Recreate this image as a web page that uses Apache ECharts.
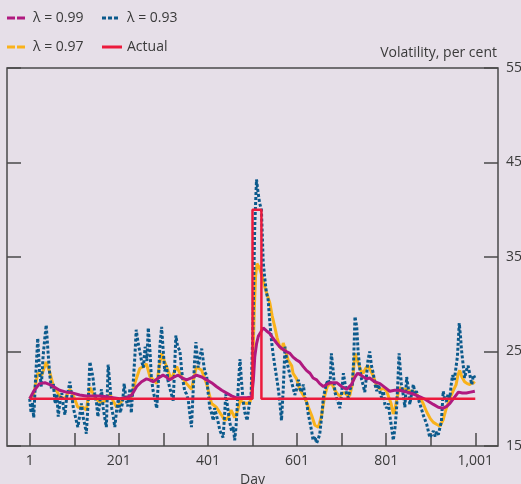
<!DOCTYPE html>
<html>
<head>
<meta charset="utf-8">
<script src="https://cdn.jsdelivr.net/npm/echarts@6/dist/echarts.min.js"></script>
<style>
  html, body { margin: 0; padding: 0; background: #e6dfe8; }
  #chart { width: 521px; height: 484px; }
</style>
</head>
<body>
<div id="chart"></div>
<script>
// Series names
const seriesNames = ['λ = 0.99', 'λ = 0.93', 'λ = 0.97', 'Actual'];
const unitTitle = 'Volatility, per cent';

// Tick positions (days) and labelled days
const dayTicks = [1, 101, 201, 301, 401, 501, 601, 701, 801, 901, 1001];
const dayLabels = [1, 201, 401, 601, 801, 1001];
const volTicks = [15, 25, 35, 45, 55];

// Actual volatility, per cent: [day, value]
const actual = [[1, 20], [501, 20], [501, 40], [521, 40], [521, 20], [1001, 20]];

// EWMA estimate, lambda = 0.99: [day, value]
const lambda99 = [
  [1,20.0],[10,20.8],[23,21.6],[35,21.7],[46,21.5],[57,21.2],[68,20.9],[83,20.7],[98,20.6],
  [113,20.4],[128,20.3],[143,20.3],[158,20.3],[173,20.2],[188,20.1],[203,20.0],[218,20.1],
  [230,20.4],[241,21.3],[252,21.8],[263,22.1],[270,22.0],[278,21.8],[290,22.2],[300,22.5],
  [308,22.3],[315,22.0],[325,22.3],[334,22.5],[343,22.2],[353,22.0],[364,22.2],[375,22.5],
  [387,22.3],[398,22.0],[409,21.7],[420,21.3],[432,20.9],[443,20.6],[454,20.3],[465,20.1],
  [476,20.1],[488,20.1],[499,20.2],[503,22.0],[506,24.4],[510,25.8],[514,26.6],[519,27.0],
  [525,27.5],[532,27.2],[540,26.9],[547,26.4],[555,25.9],[562,25.5],[570,25.2],[577,25.0],
  [585,24.8],[592,24.4],[600,24.1],[607,23.9],[615,23.4],[622,23.0],[630,22.7],[637,22.2],
  [645,22.0],[652,21.6],[660,21.3],[667,21.5],[675,21.7],[682,21.7],[690,21.7],[701,21.3],
  [712,21.0],[723,21.5],[731,22.3],[737,22.7],[747,22.4],[757,22.1],[764,22.2],[775,21.8],
  [787,21.6],[798,21.2],[809,20.8],[820,20.9],[831,20.9],[847,20.7],[862,20.5],[877,20.2],
  [890,19.9],[907,19.4],[918,19.1],[929,19.0],[937,19.2],[944,19.5],[955,20.2],[963,20.7],
  [972,20.6],[981,20.6],[990,20.7],[1000,20.8]
];

// EWMA estimate, lambda = 0.97: [day, value]
const lambda97 = [
  [1,20.0],[10,20.5],[19,22.7],[28,22.5],[38,23.9],[46,22.8],[56,21.0],[62,20.8],[69,20.2],
  [80,20.0],[91,21.0],[100,20.2],[109,19.1],[121,19.1],[128,18.8],[136,21.2],[147,20.2],
  [154,19.8],[162,19.6],[172,19.8],[181,20.5],[188,19.8],[196,19.1],[205,19.6],[214,20.2],
  [221,20.0],[229,20.2],[238,21.8],[248,23.2],[256,23.4],[263,23.7],[271,22.3],[279,22.0],
  [286,21.6],[292,23.5],[297,24.8],[303,24.0],[308,23.4],[319,22.0],[325,22.8],[331,23.4],
  [342,22.3],[353,21.6],[364,21.0],[370,22.3],[375,23.4],[387,23.0],[398,21.6],[409,19.5],
  [420,19.1],[431,18.3],[439,17.7],[446,18.0],[453,18.8],[461,18.0],[468,18.8],[473,19.8],
  [480,19.6],[488,19.5],[495,19.6],[499,20.3],[502,24.0],[505,29.5],[508,33.0],[511,34.3],
  [515,34.0],[519,33.5],[521,33.2],[525,32.5],[528,31.9],[534,31.0],[540,30.1],[545,28.8],
  [551,27.6],[556,26.5],[562,25.5],[567,25.2],[570,25.9],[574,25.9],[581,24.1],[589,23.5],
  [592,22.7],[600,22.1],[607,21.0],[611,21.1],[616,20.3],[622,19.7],[628,18.9],[634,18.2],
  [641,17.2],[649,17.0],[656,18.2],[663,20.3],[669,21.3],[675,21.6],[680,21.5],[686,20.9],
  [692,20.5],[697,20.3],[703,20.6],[708,20.6],[714,20.4],[719,20.3],[725,21.5],[731,24.8],
  [735,24.8],[738,23.8],[744,23.0],[749,22.7],[755,23.2],[760,23.5],[766,23.0],[772,22.4],
  [780,21.3],[789,21.0],[796,21.1],[802,20.8],[806,20.7],[812,19.5],[817,18.4],[820,18.7],
  [825,20.0],[831,21.2],[838,21.0],[846,21.0],[854,20.8],[862,20.8],[870,20.4],[877,20.1],
  [884,19.5],[892,18.6],[900,17.9],[907,17.5],[914,17.3],[922,17.1],[929,17.8],[936,19.0],
  [944,20.0],[951,20.8],[958,21.5],[962,22.5],[966,23.0],[971,22.3],[977,21.8],[983,21.6],
  [989,21.5],[995,21.8],[1000,21.6]
];

// EWMA estimate, lambda = 0.93: [day, value]
const lambda93 = [
  [1,20.0],[4,18.5],[7,19.6],[10,18.0],[14,22.0],[19,26.4],[23,23.0],[27,21.3],[31,24.5],
  [35,26.5],[38,27.8],[42,25.0],[46,22.5],[50,21.0],[54,21.6],[58,19.5],[62,20.5],[65,18.1],
  [69,19.8],[73,20.6],[77,19.0],[80,18.3],[84,20.2],[88,21.0],[91,21.8],[95,20.4],[99,19.0],
  [104,18.0],[109,17.0],[113,18.2],[117,19.5],[121,18.0],[125,17.2],[128,16.3],[132,19.5],
  [136,23.9],[140,23.0],[143,22.2],[147,20.5],[151,19.5],[154,18.1],[158,19.5],[162,21.0],
  [166,19.0],[170,17.8],[173,17.0],[177,23.6],[181,21.5],[185,19.0],[189,18.0],[192,17.0],
  [196,18.8],[200,20.0],[204,18.5],[209,19.5],[213,21.6],[217,20.0],[221,19.2],[226,21.1],
  [229,18.5],[233,21.5],[237,24.5],[240,27.3],[244,26.0],[248,25.9],[252,24.0],[256,23.3],
  [260,25.5],[264,24.0],[267,27.5],[271,25.0],[274,22.2],[278,20.8],[282,20.0],[286,19.0],
  [290,22.0],[293,25.5],[297,27.6],[300,25.5],[304,22.9],[308,23.5],[311,22.0],[315,21.2],
  [319,20.5],[323,19.8],[326,23.0],[329,26.7],[333,25.5],[338,25.1],[342,23.0],[345,21.9],
  [349,20.8],[353,20.5],[357,19.8],[360,18.5],[364,17.0],[367,20.0],[371,24.0],[374,26.0],
  [379,23.3],[383,24.5],[387,25.3],[391,23.8],[394,22.8],[398,22.5],[401,20.8],[405,19.1],
  [409,18.5],[413,17.7],[416,19.0],[420,18.8],[424,17.5],[428,16.6],[431,16.8],[435,15.9],
  [438,18.0],[441,20.5],[444,19.5],[446,18.8],[450,17.5],[454,16.6],[458,17.0],[461,15.6],
  [464,17.0],[467,19.4],[470,22.0],[473,24.2],[476,22.0],[480,19.8],[484,18.5],[489,17.7],
  [492,18.8],[495,19.8],[498,20.6],[502,27.6],[506,38.2],[510,43.2],[513,42.0],[517,40.7],
  [521,40.0],[525,34.5],[528,33.0],[532,31.3],[536,30.5],[540,28.0],[544,26.0],[547,24.8],
  [551,23.5],[555,22.3],[559,21.0],[562,19.8],[566,17.7],[570,21.0],[574,25.5],[578,24.0],
  [581,24.0],[585,22.5],[589,21.7],[593,21.0],[596,20.4],[600,21.0],[604,22.0],[608,21.0],
  [611,20.7],[615,21.5],[619,20.1],[623,19.5],[626,18.4],[630,17.5],[634,16.5],[637,15.6],
  [641,16.0],[645,15.3],[649,15.8],[652,16.3],[656,18.0],[660,20.1],[664,21.0],[667,21.6],
  [671,22.0],[675,21.5],[678,24.8],[682,23.0],[686,20.7],[690,20.0],[694,19.5],[697,19.0],
  [701,20.5],[705,22.7],[709,21.5],[712,20.5],[716,20.1],[720,21.0],[725,21.5],[728,24.0],
  [731,28.7],[735,27.6],[738,25.0],[742,23.1],[746,22.0],[749,21.5],[753,20.7],[757,22.5],
  [760,24.0],[764,25.0],[768,23.5],[772,22.7],[776,21.5],[780,20.8],[784,21.5],[788,20.5],
  [791,20.1],[795,20.8],[798,19.4],[802,19.0],[806,19.5],[809,18.3],[813,17.0],[817,15.6],
  [821,17.0],[824,18.7],[827,21.5],[830,24.8],[835,21.6],[839,20.5],[843,19.1],[847,22.3],
  [851,21.0],[854,19.4],[858,20.5],[862,21.5],[866,20.5],[869,20.8],[873,20.0],[877,19.4],
  [881,18.8],[884,18.3],[888,17.8],[892,17.3],[896,16.5],[899,15.9],[903,16.2],[907,16.6],
  [911,16.0],[914,16.5],[918,16.2],[921,16.8],[925,17.6],[929,20.8],[932,20.0],[936,19.7],
  [940,20.5],[944,20.1],[947,21.5],[950,22.5],[954,22.0],[957,21.8],[961,24.5],[965,28.0],
  [968,26.5],[970,25.2],[974,23.5],[977,22.2],[981,23.0],[985,23.5],[989,22.5],[993,21.5],
  [997,22.5],[1000,22.2]
];

const colors = {
  l99: '#b0197f',
  l93: '#0b5a8c',
  l97: '#f9b21b',
  actual: '#ec1a3c',
  text: '#3a3a3a',
  frame: '#4a4a4a',
  bg: '#e6dfe8'
};

const fontFamily = '"Open Sans", "Noto Sans", sans-serif';

// Legend swatches drawn as small paths
const iconDash = 'path://M0,0H8V3H0Z M10,0H18V3H10Z';
const iconDots = 'path://M0,0H4V3H0Z M6,0H10V3H6Z M12,0H16V3H12Z';
const iconSolid = 'path://M0,0H20V3H0Z';

function legendItem(name, icon, w, left, top, padLeft) {
  return {
    data: [{ name: name, icon: icon }],
    left: left, top: top, padding: 0,
    itemWidth: w, itemHeight: 3,
    selectedMode: false,
    itemStyle: { borderWidth: 0 },
    textStyle: {
      color: colors.text, fontSize: 14, fontFamily: fontFamily,
      padding: [0, 0, 0, padLeft]
    }
  };
}

const tickStyle = { color: colors.frame, width: 1.5 };

const chart = echarts.init(document.getElementById('chart'), null, { renderer: 'canvas' });

const option = {
  animation: false,
  backgroundColor: colors.bg,
  legend: [
    legendItem(seriesNames[0], iconDash, 18, 7, 11, 3),
    legendItem(seriesNames[1], iconDots, 16, 102, 11, 4),
    legendItem(seriesNames[2], iconDash, 18, 7, 40, 3),
    legendItem(seriesNames[3], iconSolid, 20, 102, 40, 0)
  ],
  // Unit title above the right-hand value axis
  graphic: [{
    type: 'text',
    right: 24,
    top: 46,
    style: {
      text: unitTitle,
      fill: colors.text,
      font: '14px ' + fontFamily
    }
  }],
  grid: {
    left: 7, right: 23, top: 68, bottom: 38,
    containLabel: false,
    outerBoundsMode: 'none',
    show: true, borderColor: colors.frame, borderWidth: 1.5,
    backgroundColor: 'transparent'
  },
  xAxis: {
    type: 'value',
    min: -50, max: 1052,
    name: 'Day',
    nameLocation: 'middle',
    nameGap: 21,
    nameTextStyle: { color: colors.text, fontSize: 14, fontFamily: fontFamily },
    axisLine: { show: false, onZero: false },
    splitLine: { show: false },
    axisTick: { inside: true, length: 13, customValues: dayTicks, lineStyle: tickStyle },
    axisLabel: {
      customValues: dayLabels,
      margin: 8,
      hideOverlap: false,
      color: colors.text, fontSize: 14, fontFamily: fontFamily,
      formatter: v => Number(v).toLocaleString('en-US')
    }
  },
  yAxis: [
    {
      type: 'value', position: 'right',
      min: 15, max: 55, interval: 10,
      axisLine: { show: false, onZero: false },
      splitLine: { show: false },
      axisTick: { inside: true, length: 14, lineStyle: tickStyle },
      axisLabel: {
        margin: 8, color: colors.text, fontSize: 14, fontFamily: fontFamily,
        customValues: volTicks
      }
    },
    {
      type: 'value', position: 'left',
      min: 15, max: 55, interval: 10,
      axisLine: { show: false, onZero: false },
      splitLine: { show: false },
      axisTick: { inside: true, length: 14, lineStyle: tickStyle },
      axisLabel: { show: false }
    }
  ],
  series: [
    {
      name: seriesNames[2], type: 'line', data: lambda97,
      color: colors.l97, showSymbol: false, symbol: 'none',
      lineStyle: { color: colors.l97, width: 3 },
      clip: true, z: 2
    },
    {
      name: seriesNames[1], type: 'line', data: lambda93,
      color: colors.l93, showSymbol: false, symbol: 'none',
      lineStyle: { color: colors.l93, width: 3, type: [3, 2] },
      clip: true, z: 3
    },
    {
      name: seriesNames[0], type: 'line', data: lambda99,
      color: colors.l99, showSymbol: false, symbol: 'none',
      lineStyle: { color: colors.l99, width: 3 },
      clip: true, z: 4
    },
    {
      name: seriesNames[3], type: 'line', data: actual,
      color: colors.actual, showSymbol: false, symbol: 'none',
      lineStyle: { color: colors.actual, width: 2.5 },
      clip: true, z: 5
    }
  ]
};

chart.setOption(option);
</script>
</body>
</html>
